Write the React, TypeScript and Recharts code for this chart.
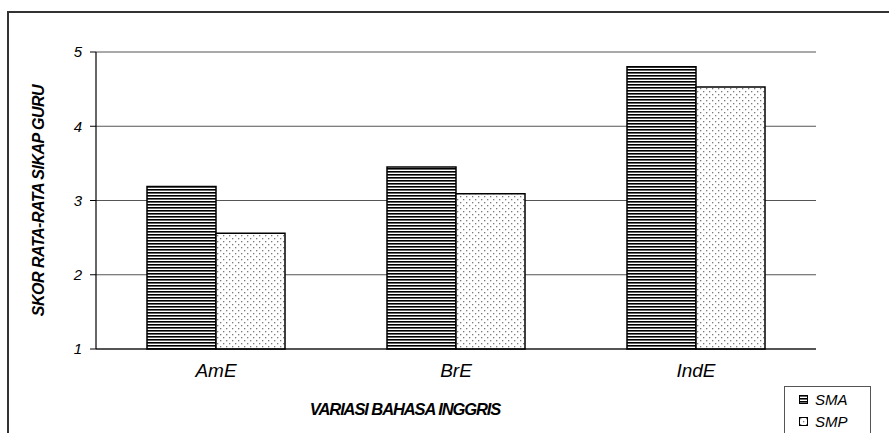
import { BarChart, Bar, XAxis, YAxis, CartesianGrid } from 'recharts';

const categories = ['AmE', 'BrE', 'IndE'];
const smaValues = [3.19, 3.45, 4.8];
const smpValues = [2.56, 3.09, 4.53];
const yTicks = [1, 2, 3, 4, 5];
const seriesNames = ['SMA', 'SMP'];

const data = categories.map((name, i) => ({ name, SMA: smaValues[i], SMP: smpValues[i] }));

const FONT = '"Liberation Sans", Arial, sans-serif';

function LegendBox() {
  const fills = ['url(#stripes)', 'url(#dots)'];
  return (
    <div
      style={{
        position: 'absolute',
        left: 784,
        top: 386,
        border: '1.5px solid #555',
        background: '#fff',
        width: 87,
        height: 60,
        paddingTop: 1,
        boxSizing: 'border-box',
        fontFamily: FONT,
        fontStyle: 'italic',
        fontSize: 15,
      }}
    >
      {seriesNames.map((label, i) => (
        <div key={label} style={{ display: 'flex', alignItems: 'center', height: 22, paddingLeft: 14 }}>
          <svg width={10} height={9} style={{ marginRight: 6 }}>
            <rect x={0.5} y={0.5} width={8} height={8} fill={fills[i]} stroke="#000" strokeWidth={1} />
          </svg>
          <span>{label}</span>
        </div>
      ))}
    </div>
  );
}

export default function App() {
  return (
    <div style={{ position: 'absolute', left: 0, top: 0, width: 889, height: 433, overflow: 'hidden', background: '#fff' }}>
      <div
        style={{
          position: 'absolute',
          left: 7,
          top: 11,
          width: 900,
          height: 450,
          border: '2px solid #333',
        }}
      />
      <svg width={0} height={0} style={{ position: 'absolute' }}>
        <defs>
          <pattern id="stripes" width={4} height={3} patternUnits="userSpaceOnUse">
            <rect width={4} height={3} fill="#fff" />
            <rect width={4} height={1.6} fill="#000" />
          </pattern>
          <pattern id="dots" width={6} height={6} patternUnits="userSpaceOnUse">
            <rect width={6} height={6} fill="#fff" />
            <rect x={1} y={1} width={1.3} height={1.3} fill="#7a7a7a" />
            <rect x={4} y={4} width={1.3} height={1.3} fill="#7a7a7a" />
          </pattern>
        </defs>
      </svg>
      <div style={{ position: 'absolute', left: 0, top: 0 }}>
        <BarChart
          width={889}
          height={433}
          data={data}
          margin={{ top: 52, right: 73, left: 36, bottom: 14 }}
          barGap={0}
          barSize={69}
        >
          <CartesianGrid horizontal vertical={false} stroke="#555" strokeWidth={1} />
          <XAxis
            dataKey="name"
            height={70}
            axisLine={{ stroke: '#000', strokeWidth: 1.2 }}
            tickLine={false}
            tickMargin={9}
            tick={{ fill: '#000', fontSize: 19, fontStyle: 'italic', fontFamily: FONT }}
            label={{
              value: 'VARIASI BAHASA INGGRIS',
              position: 'insideBottom',
              offset: 4,
              dx: -51,
              style: { fill: '#000', fontSize: 16.5, fontWeight: 'bold', fontStyle: 'italic', fontFamily: FONT, letterSpacing: -1.1 },
            }}
          />
          <YAxis
            domain={[1, 5]}
            ticks={yTicks}
            width={60}
            axisLine={{ stroke: '#000', strokeWidth: 1.2 }}
            tickLine={{ stroke: '#000' }}
            tickSize={6}
            tickMargin={8}
            tick={{ fill: '#000', fontSize: 15, fontStyle: 'italic', fontFamily: FONT }}
            label={{
              value: 'SKOR RATA-RATA SIKAP GURU',
              angle: -90,
              position: 'insideLeft',
              offset: 2,
              style: { textAnchor: 'middle', fill: '#000', fontSize: 16, fontWeight: 'bold', fontStyle: 'italic', fontFamily: FONT, letterSpacing: -0.5 },
            }}
          />
          <YAxis
            yAxisId="frame"
            orientation="right"
            width={0}
            tick={false}
            tickLine={false}
            axisLine={{ stroke: '#888', strokeWidth: 1.5 }}
          />
          <Bar dataKey="SMA" fill="url(#stripes)" stroke="#000" strokeWidth={1.5} isAnimationActive={false} />
          <Bar dataKey="SMP" fill="url(#dots)" stroke="#000" strokeWidth={1.5} isAnimationActive={false} />
        </BarChart>
      </div>
      <LegendBox />
    </div>
  );
}
